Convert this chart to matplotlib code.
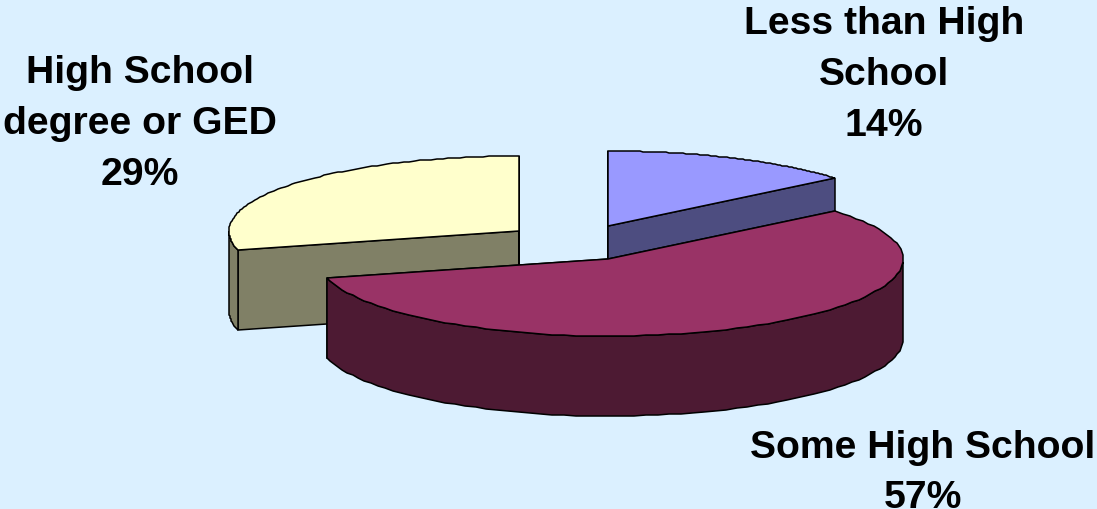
import numpy as np
import matplotlib
matplotlib.use('Agg')
import matplotlib.pyplot as plt
from matplotlib.patches import Polygon

categories = ['Less than High\nSchool', 'Some High School', 'High School\ndegree or GED']
values = [14, 57, 29]

top_colors = ['#9999FF', '#993366', '#FFFFCC']
side_colors = ['#4D4D80', '#4D1A33', '#808066']
# apex of each exploded slice, pixels
centers = [(608, 227), (608, 260), (519, 232)]
label_pos = [(884, 75), (923, 473), (140, 124)]
RX_RIGHT, RX_LEFT = 295, 290
RY_BACK, RY_FRONT = 75, 77
DEPTH = 80
BG = '#DBF0FF'

plt.rcParams['font.family'] = ['Liberation Sans', 'DejaVu Sans']


def rim(cx, cy, a0, a1, n=90):
    t = np.radians(np.linspace(a0, a1, n))
    s, c = np.sin(t), np.cos(t)
    x = cx + np.where(s > 0, RX_RIGHT, RX_LEFT) * s
    y = cy - np.where(c > 0, RY_BACK, RY_FRONT) * c
    # the original outline is stepped, not smooth
    return np.column_stack([np.round(x), np.round(y)])


def draw_slice(ax, center, a0, a1, top, side):
    cx, cy = center
    arc = rim(cx, cy, a0, a1)
    down = np.array([0, DEPTH])
    # cut faces first, they sit behind the outer wall
    for end in (arc[0], arc[-1]):
        face = [center, end, end + down, (cx, cy + DEPTH)]
        ax.add_patch(Polygon(face, fc=side, ec='black', lw=1.1))
    # outer wall, only the front of the rim shows
    t = np.radians(np.linspace(a0, a1, len(arc)))
    # going round the front means from the right extreme to the left extreme
    front = arc[(t >= np.pi / 2) & (t <= 3 * np.pi / 2)]
    if a0 > 180 and a0 < 270:
        front = arc[t <= 3 * np.pi / 2]
    if len(front):
        wall = np.vstack([front, (front + down)[::-1]])
        ax.add_patch(Polygon(wall, fc=side, ec='black', lw=1.1))
    ax.add_patch(Polygon(np.vstack([center, arc]), fc=top, ec='black', lw=1.1))


fig = plt.figure(figsize=(10.97, 5.10), dpi=100, facecolor=BG)
ax = fig.add_axes([0, 0, 1, 1])
ax.set_xlim(0, 1097)
ax.set_ylim(510, 0)
ax.axis('off')

angles = np.cumsum([0] + values) / sum(values) * 360
for i in (2, 0, 1):
    draw_slice(ax, centers[i], angles[i], angles[i + 1], top_colors[i], side_colors[i])

for name, val, (x, y) in zip(categories, values, label_pos):
    ax.text(x, y, f'{name}\n{val}%', ha='center', va='center', fontsize=28.2,
            fontweight='bold', color='black', linespacing=1.53)

fig.savefig('out.png', dpi=100, facecolor=BG)
